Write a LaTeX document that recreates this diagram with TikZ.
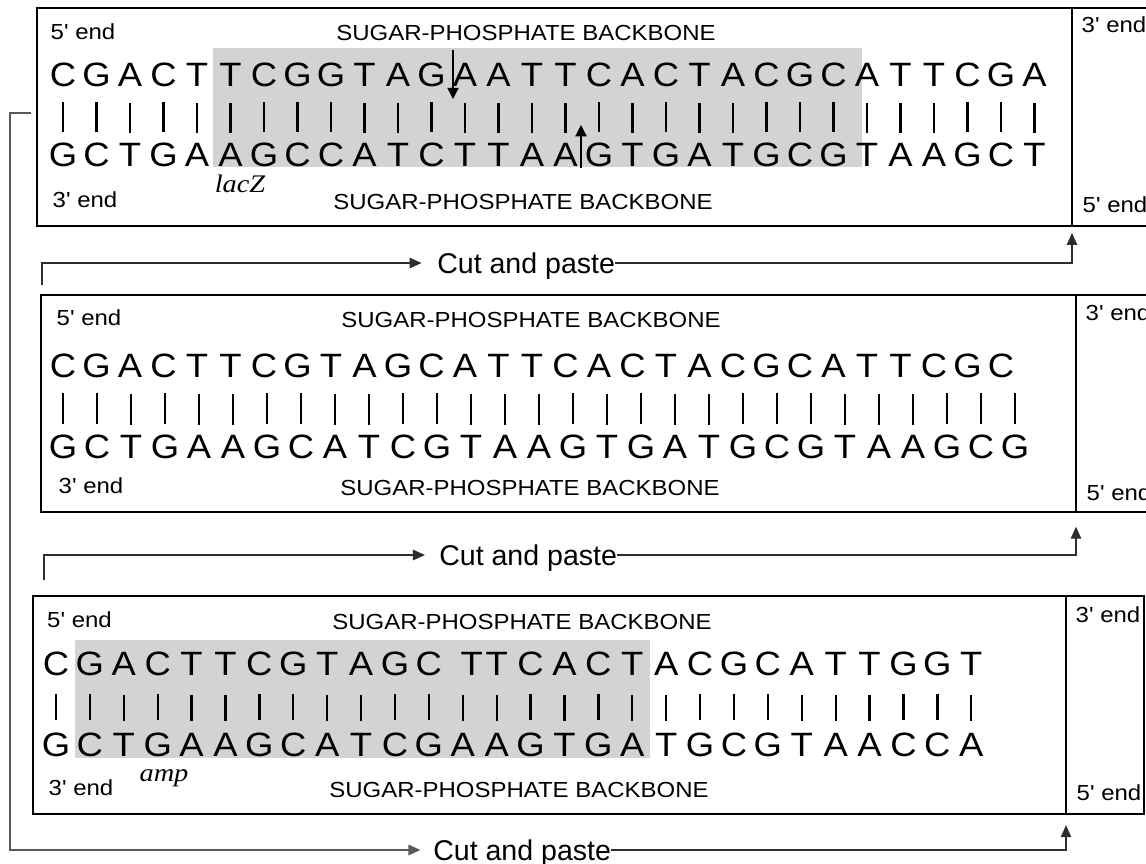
\documentclass[tikz,border=0pt]{standalone}
\usepackage{fontspec}
\setmainfont{Liberation Sans}
\newfontfamily\basefont[FakeStretch=1.08]{Liberation Sans}
\newfontfamily\tagfont[FakeStretch=1.1]{Liberation Sans}
\newfontfamily\genefont[FakeStretch=1.12]{Liberation Serif}
\usetikzlibrary{arrows.meta,positioning}
\definecolor{shade}{RGB}{211,211,211}
\definecolor{ink}{RGB}{45,45,45}
\tikzset{
  >={Triangle[length=8.5pt,width=7.5pt]},
  panel/.style={line width=1.7pt},
  hilite/.style={fill=shade},
  base/.style={anchor=base,inner sep=0pt,font=\basefont\fontsize{24}{28}\selectfont},
  bond/.style={line width=1.6pt},
  tag/.style={inner sep=0pt,text depth=0pt,font=\tagfont\fontsize{15.5}{18}\selectfont},
  gene/.style={anchor=base,inner sep=0pt,font=\genefont\itshape\fontsize{18}{21}\selectfont},
  paste/.style={anchor=west,inner sep=0pt,text depth=0pt,font=\fontsize{20.3}{24}\selectfont},
  flow/.style={->,draw=ink,line width=0.8pt},
  cutmark/.style={-{Triangle[length=8pt,width=8pt]},line width=0.9pt},
}
\begin{document}
\begin{tikzpicture}[x=0.025cm,y=-0.025cm]
  \useasboundingbox (0,0) rectangle (1146,863);
  \clip (0,0) rectangle (1146,863);
  % lacZ and amp stretches
  \fill[hilite] (213,48) rectangle (862,167);
  \fill[hilite] (75,640) rectangle (650,758);

  % first molecule
  \draw[panel] (37,8) rectangle (1200,226);
  \draw[panel] (1072,8) -- (1072,226) coordinate (d1);
  \node[tag] (end1a) at (83,32) {5' end};
  \node[tag] (end1b) at (85,200) {3' end};
  \node[tag] (bb1a) at (526,33) {SUGAR-PHOSPHATE BACKBONE};
  \node[tag] (bb1b) at (523,202) {SUGAR-PHOSPHATE BACKBONE};
  \node[tag] (end1c) at (1114,25) {3' end};
  \node[tag] (end1d) at (1115,205) {5' end};
  \foreach \b [count=\i from 0] in {C,G,A,C,T,T,C,G,G,T,A,G,A,A,T,T,C,A,C,T,A,C,G,C,A,T,T,C,G,A}
    \node[base] (t1-\i) at ({63+33.5*\i},86) {\b};
  \foreach \b [count=\i from 0] in {G,C,T,G,A,A,G,C,C,A,T,C,T,T,A,A,G,T,G,A,T,G,C,G,T,A,A,G,C,T}
    \node[base] (b1-\i) at ({63+33.5*\i},166) {\b};
  \foreach \i in {0,...,29}
    \draw[bond] (b1-\i.north) ++(0,-10) -- ++(0,-30);
  \node[gene] (lacz) at (240,192) {lacZ};
  \coordinate (cut1) at (453,50);
  \coordinate (cut2) at (581,168);
  \draw[cutmark] (cut1) -- ++(0,49);
  \draw[cutmark] (cut2) -- ++(0,-43);

  % second molecule
  \draw[panel] (41,295) rectangle (1200,512);
  \draw[panel] (1076,295) -- (1076,512) coordinate (d2);
  \node[tag] (end2a) at (89,318) {5' end};
  \node[tag] (end2b) at (91,486) {3' end};
  \node[tag] (bb2a) at (531,320) {SUGAR-PHOSPHATE BACKBONE};
  \node[tag] (bb2b) at (530,488) {SUGAR-PHOSPHATE BACKBONE};
  \node[tag] (end2c) at (1118,313) {3' end};
  \node[tag] (end2d) at (1119,493) {5' end};
  \foreach \b [count=\i from 0] in {C,G,A,C,T,T,C,G,T,A,G,C,A,T,T,C,A,C,T,A,C,G,C,A,T,T,C,G,C}
    \node[base] (t2-\i) at ({63+33.5*\i},377) {\b};
  \foreach \b [count=\i from 0] in {G,C,T,G,A,A,G,C,A,T,C,G,T,A,A,G,T,G,A,T,G,C,G,T,A,A,G,C,G}
    \node[base] (b2-\i) at ({63+34*\i},458) {\b};
  \foreach \i in {0,...,28}
    \draw[bond] (b2-\i.north) ++(0,-10) -- ++(0,-31);

  % third molecule
  \draw[panel] (33,596) rectangle (1144,814);
  \draw[panel] (1066,596) -- (1066,814) coordinate (d3);
  \node[tag] (end3a) at (79.5,620) {5' end};
  \node[tag] (end3b) at (81,788) {3' end};
  \node[tag] (bb3a) at (522,622) {SUGAR-PHOSPHATE BACKBONE};
  \node[tag] (bb3b) at (519,790) {SUGAR-PHOSPHATE BACKBONE};
  \node[tag] (end3c) at (1108,615) {3' end};
  \node[tag] (end3d) at (1109,793) {5' end};
  \foreach \b [count=\i from 0] in {C,G,A,C,T,T,C,G,T,A,G,C,T,T,C,A,C,T,A,C,G,C,A,T,T,G,G,T}
    \node[base] (t3-\i) at ({56+33.9*\i+9*(\i==12)},675) {\b};
  \foreach \b [count=\i from 0] in {G,C,T,G,A,A,G,C,A,T,C,G,A,A,G,T,G,A,T,G,C,G,T,A,A,C,C,A}
    \node[base] (b3-\i) at ({56+33.9*\i},756) {\b};
  \foreach \i in {0,...,27}
    \draw[bond] (b3-\i.north) ++(0,-12) -- ++(0,-26);
  \node[gene] (amp) at (164,781) {amp};

  % cut and paste steps
  \node[paste] (cp1) at (437,263) {Cut and paste};
  \node[paste] (cp2) at (439,555) {Cut and paste};
  \node[paste] (cp3) at (433,850) {Cut and paste};
  \coordinate (s1) at (42,285);
  \coordinate (s2) at (44,580);
  \coordinate (s3) at (31,113);
  \draw[flow,shorten >=11pt] (s1) |- (cp1.west);
  \draw[flow,shorten >=5pt] (cp1.east) -| (d1);
  \draw[flow,shorten >=10pt] (s2) |- (cp2.west);
  \draw[flow,shorten >=10.5pt] (cp2.east) -| (d2);
  \draw[flow,draw=black!65,line width=1.1pt,shorten >=9pt] (s3) -- ++(-21,0) |- (cp3.west);
  \draw[flow,shorten >=8pt] (cp3.east) -| (d3);
\end{tikzpicture}
\end{document}
